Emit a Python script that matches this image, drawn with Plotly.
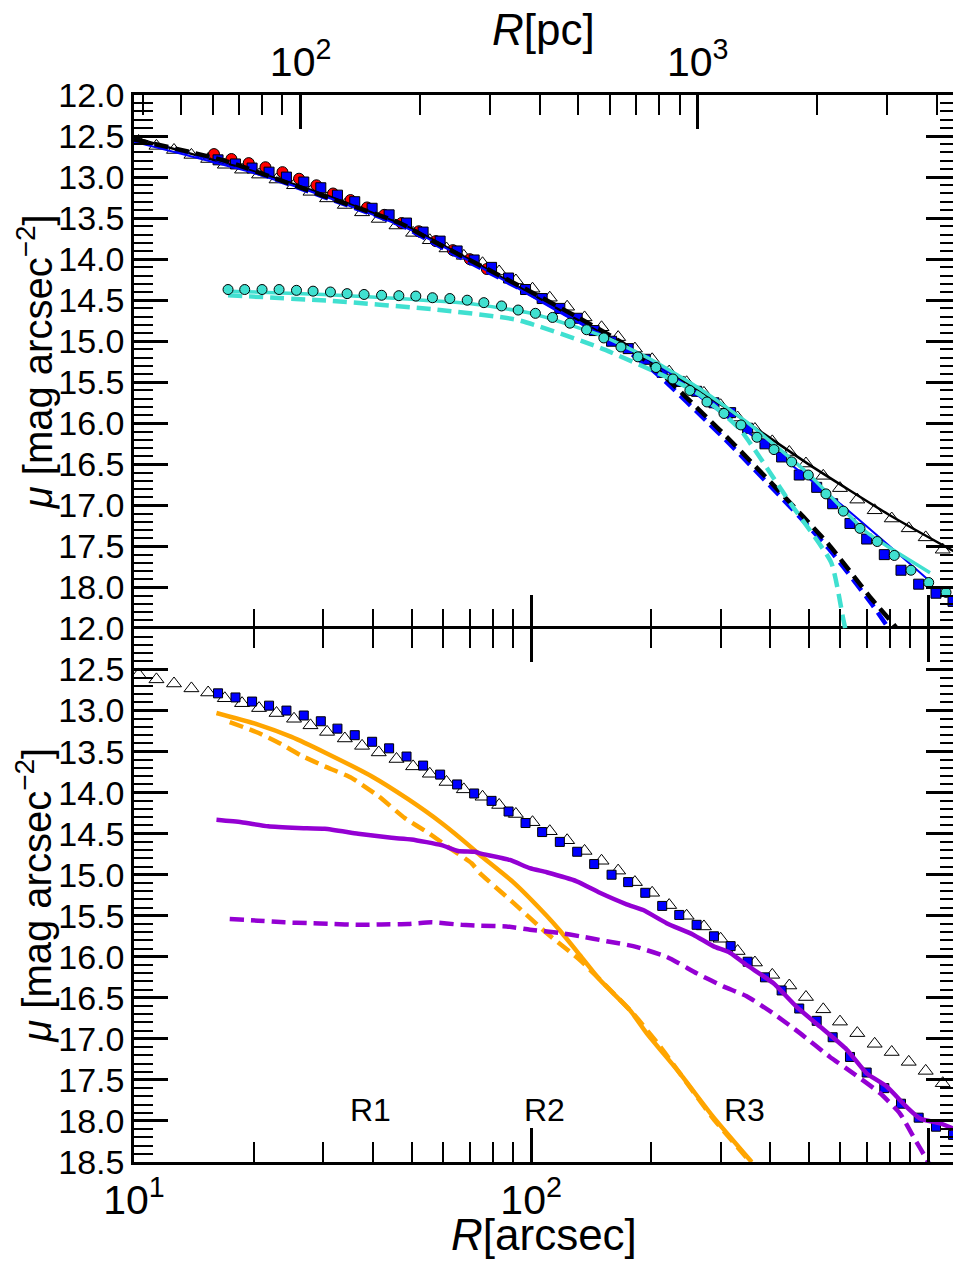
import numpy as np
import plotly.graph_objects as go

# Surface-brightness profiles; radii in arcsec, mu in mag arcsec^-2
PC_PER_ARCSEC = 3.806
R_LO, R_HI = 10.0, 1154.0

tri_r = [10.27, 11.39, 12.61, 13.95, 15.37, 16.93, 18.71, 20.65, 22.85, 25.29, 27.82, 30.63,
         33.95, 37.52, 41.33, 45.81, 50.44, 55.57, 61.22, 67.69, 75.44, 83.07, 91.53, 100.8,
         111.4, 123.2, 136.3, 150.4, 165.6, 182.5, 201.7, 222.6, 246.3, 272.3, 300.0, 331.1,
         366.0, 404.7, 446.7, 492.0, 543.9, 599.3, 662.6, 732.8, 808.9, 892.7, 985.1, 1087.2]
tri_mu = [12.56, 12.62, 12.67, 12.73, 12.78, 12.85, 12.91, 12.97, 13.03, 13.10, 13.18, 13.26,
          13.34, 13.43, 13.51, 13.59, 13.68, 13.77, 13.87, 13.96, 14.05, 14.15, 14.26, 14.36,
          14.47, 14.58, 14.71, 14.83, 14.95, 15.09, 15.22, 15.37, 15.50, 15.63, 15.78, 15.93,
          16.07, 16.22, 16.35, 16.49, 16.64, 16.79, 16.93, 17.06, 17.16, 17.28, 17.39, 17.54]

sq_r = [16.28, 18.01, 19.83, 21.88, 24.20, 26.76, 29.54, 32.53, 35.96, 39.77, 43.89, 48.55,
        53.45, 59.00, 65.11, 71.86, 79.49, 87.73, 96.80, 106.6, 118.1, 130.6, 144.1, 159.4,
        175.5, 193.8, 213.8, 236.0, 261.0, 288.6, 317.9, 350.9, 387.9, 427.3, 473.2, 523.6,
        574.4, 635.0, 699.6, 774.9, 853.6, 945.8, 1045.7, 1154.0]
sq_mu = [12.79, 12.84, 12.89, 12.94, 13.00, 13.06, 13.13, 13.22, 13.30, 13.38, 13.46, 13.56,
         13.67, 13.78, 13.90, 14.01, 14.10, 14.23, 14.37, 14.48, 14.60, 14.72, 14.87, 15.00,
         15.09, 15.22, 15.38, 15.49, 15.61, 15.75, 15.87, 16.06, 16.25, 16.41, 16.63, 16.78,
         16.98, 17.22, 17.41, 17.60, 17.79, 17.96, 18.07, 18.17]

red_r = [15.90, 17.59, 19.45, 21.43, 23.65, 26.04, 28.80, 31.71, 35.09, 38.63, 42.68, 47.16,
         52.12, 57.54, 63.51, 70.08, 77.34]
red_mu = [12.72, 12.78, 12.83, 12.88, 12.94, 13.02, 13.10, 13.20, 13.28, 13.37, 13.46, 13.56,
          13.66, 13.78, 13.89, 14.00, 14.12]

tq_r = [17.25, 19.00, 21.01, 23.19, 25.65, 28.24, 31.23, 34.40, 37.96, 42.01, 46.44, 51.24,
        56.43, 62.41, 69.02, 76.02, 84.23, 92.76, 102.5, 113.2, 125.2, 137.9, 152.4, 168.3,
        185.7, 206.2, 227.5, 251.0, 277.1, 305.8, 337.5, 370.3, 408.7, 452.8, 498.7, 552.5,
        610.9, 672.9, 743.7, 821.0, 904.4, 1002.3, 1108.2]
tq_mu = [14.37, 14.37, 14.37, 14.37, 14.38, 14.39, 14.40, 14.42, 14.43, 14.44, 14.445, 14.45,
         14.47, 14.48, 14.50, 14.53, 14.57, 14.62, 14.66, 14.71, 14.78, 14.86, 14.96, 15.07,
         15.19, 15.32, 15.46, 15.60, 15.74, 15.88, 16.02, 16.17, 16.32, 16.47, 16.63, 16.86,
         17.07, 17.28, 17.44, 17.61, 17.79, 17.94, 18.06]

# model curves, top panel
tot_r = [10, 15, 20, 30, 50, 80, 120, 200, 300, 500, 800, 1200]
tot_mu = [12.52, 12.76, 12.93, 13.21, 13.63, 14.16, 14.64, 15.24, 15.77, 16.50, 17.12, 17.60]

bfit_r = [10, 20, 30, 50, 80, 120, 211, 276, 405, 600, 991]
bfit_mu = [12.57, 12.95, 13.23, 13.65, 14.18, 14.67, 15.30, 15.74, 16.33, 16.98, 17.89]

kblg_r = [10, 16.9, 30, 46.7, 56.6, 77.5, 100, 130, 167, 202, 219, 276, 316, 420, 560, 720, 805, 860]
kblg_mu = [12.54, 12.80, 13.23, 13.56, 13.78, 14.12, 14.40, 14.70, 15.00, 15.30, 15.45, 15.92,
           16.20, 16.82, 17.47, 18.14, 18.41, 18.58]

bblg_r = [10, 16.9, 30, 46.7, 56.6, 77.5, 100, 130, 167, 202, 219, 276, 316, 420, 560, 720, 790, 840]
bblg_mu = [12.55, 12.81, 13.24, 13.58, 13.80, 14.15, 14.43, 14.74, 15.05, 15.35, 15.50, 15.97,
           16.25, 16.87, 17.52, 18.20, 18.48, 18.66]

tfit_r = [17.25, 30, 50, 70, 100, 150, 200, 270, 350, 500, 700, 1010]
tfit_mu = [14.39, 14.43, 14.49, 14.54, 14.66, 14.93, 15.22, 15.60, 15.99, 16.62, 17.33, 17.82]

tdsk_r = [17.25, 31.6, 56.6, 92.3, 149, 227, 266, 335, 449, 570, 611, 630]
tdsk_mu = [14.44, 14.51, 14.61, 14.74, 15.08, 15.47, 15.65, 16.07, 16.97, 17.70, 18.39, 18.69]

# decomposed profiles, bottom panel
org_r = [16.13, 20.53, 24.92, 30.23, 39.63, 49.00, 59.48, 70.79, 74.29, 90.10, 109.4, 118.1,
         132.7, 148.9, 177.3, 195.3, 236.9, 287.3, 359.2]
org_mu = [13.03, 13.17, 13.32, 13.51, 13.80, 14.08, 14.37, 14.67, 14.76, 15.09, 15.50, 15.68,
          15.98, 16.28, 16.65, 16.93, 17.42, 17.95, 18.50]

orgd_r = [17.42, 20.53, 23.51, 26.41, 30.23, 35.29, 41.18, 48.08, 55.03, 63.04, 70.79, 74.29,
          90.10, 109.4, 132.7, 154.9, 180.7, 211.0, 261.0, 287.3, 359.2]
orgd_mu = [13.14, 13.27, 13.41, 13.55, 13.68, 13.82, 14.04, 14.31, 14.49, 14.69, 14.86, 14.98,
           15.34, 15.71, 16.04, 16.36, 16.69, 17.09, 17.70, 17.97, 18.52]

pur_r = [16.13, 18.64, 21.76, 25.89, 30.23, 36.67, 44.51, 49.95, 59.48, 65.5, 72.13, 74.29,
         88.4, 99.25, 109.4, 130.2, 148.9, 173.9, 191.5, 219.3, 255.9, 287.3, 316.6, 348.9,
         407.0, 466.2, 533.6, 623.0, 699.6, 785.8, 882.2, 953.1, 1070.0, 1154.0]
pur_mu = [14.33, 14.36, 14.41, 14.43, 14.44, 14.50, 14.55, 14.57, 14.64, 14.71, 14.72, 14.74,
          14.82, 14.92, 14.97, 15.08, 15.22, 15.36, 15.43, 15.59, 15.73, 15.87, 15.95, 16.10,
          16.32, 16.61, 16.85, 17.13, 17.42, 17.58, 17.83, 17.97, 18.03, 18.09]

purd_r = [17.42, 20.53, 23.96, 27.44, 31.43, 36.67, 42.01, 49.0, 56.12, 66.79, 74.29, 86.7,
          99.25, 118.1, 132.7, 154.9, 180.7, 219.3, 261.0, 304.5, 348.9, 407.0, 475.2, 565.5,
          647.4, 755.4, 848.6, 916.9, 990.9, 1030.0]
purd_mu = [15.54, 15.56, 15.58, 15.59, 15.60, 15.61, 15.605, 15.60, 15.58, 15.61, 15.62, 15.63,
           15.67, 15.71, 15.75, 15.81, 15.87, 16.00, 16.20, 16.36, 16.48, 16.69, 16.93, 17.22,
           17.42, 17.66, 17.91, 18.19, 18.47, 18.62]

region_r = [70, 150, 877]
region_names = ["R1", "R2", "R3"]
region_label_r = [39.3, 108.3, 345.4]
region_label_mu = 17.87

mu_ticks_top = [12.0 + 0.5 * i for i in range(13)]
mu_ticks_bot = [12.0 + 0.5 * i for i in range(14)]
mu_minor = [round(12.0 + 0.1 * i, 1) for i in range(66)]
arc_minor = [20, 30, 40, 50, 60, 70, 80, 90, 200, 300, 400, 500, 600, 700, 800, 900]
pc_minor = [40, 50, 60, 70, 80, 90, 200, 300, 400, 500, 600, 700, 800, 900, 2000, 3000, 4000]

BLUE = "#0000ff"
RED = "#ff0000"
TURQ = "#40e0d0"
ORANGE = "#ffa500"
PURPLE = "#9400d3"
GREY = "#c0c0c0"
SANS = "Liberation Sans, Arial, sans-serif"

fig = go.Figure()


def line(x, y, color, width, dash, xa, ya):
    fig.add_trace(go.Scatter(x=x, y=y, mode="lines", xaxis=xa, yaxis=ya,
                             line=dict(color=color, width=width, dash=dash, shape="spline",
                                       smoothing=0.5),
                             showlegend=False, hoverinfo="skip"))


def pts(x, y, symbol, fill, size, xa, ya, lw=1):
    fig.add_trace(go.Scatter(x=x, y=y, mode="markers", xaxis=xa, yaxis=ya,
                             marker=dict(symbol=symbol, color=fill, size=size,
                                         line=dict(color="black", width=lw)),
                             showlegend=False, hoverinfo="skip"))


DASH = "14px,7px"

# ---- top panel ----
pts(tri_r, tri_mu, "triangle-up", "white", 13, "x2", "y2")
pts(red_r, red_mu, "circle", RED, 11, "x2", "y2")
pts(sq_r, sq_mu, "square", BLUE, 10, "x2", "y2")
line(tot_r, tot_mu, "black", 2.5, "solid", "x2", "y2")
line(bfit_r, bfit_mu, BLUE, 2, "solid", "x2", "y2")
line(bblg_r, bblg_mu, BLUE, 4.5, DASH, "x2", "y2")
line(kblg_r, kblg_mu, "black", 4.5, DASH, "x2", "y2")
line(tfit_r, tfit_mu, TURQ, 3.5, "solid", "x2", "y2")
line(tdsk_r, tdsk_mu, TURQ, 4.5, DASH, "x2", "y2")
pts(tq_r, tq_mu, "circle", TURQ, 10, "x2", "y2")

# ---- bottom panel ----
pts(tri_r, tri_mu, "triangle-up", "white", 13, "x", "y")
pts(sq_r, sq_mu, "square", BLUE, 9, "x", "y")
line(org_r, org_mu, ORANGE, 4.5, "solid", "x", "y")
line(orgd_r, orgd_mu, ORANGE, 4.5, DASH, "x", "y")
line(pur_r, pur_mu, PURPLE, 4.5, "solid", "x", "y")
line(purd_r, purd_mu, PURPLE, 4.5, DASH, "x", "y")

# placeholders so the overlay axes are drawn
for xa, ya in (("x2", "y3"), ("x", "y4"), ("x3", "y2")):
    fig.add_trace(go.Scatter(x=[], y=[], xaxis=xa, yaxis=ya, showlegend=False))

lr = [np.log10(R_LO), np.log10(R_HI)]
lr_pc = [np.log10(R_LO * PC_PER_ARCSEC), np.log10(R_HI * PC_PER_ARCSEC)]

tickfont = dict(family=SANS, size=34, color="black")
xtickfont = dict(family=SANS, size=41, color="black")
common_y = dict(range=[18.5, 12.0], ticks="inside", ticklen=34, tickwidth=3, tickcolor="black",
                showline=True, linecolor="black", linewidth=2.5, showgrid=False, zeroline=False,
                tickfont=tickfont,
                minor=dict(tickmode="array", tickvals=mu_minor, ticks="inside", ticklen=19,
                           tickwidth=2, tickcolor="black", showgrid=False))
right_y = dict(range=[18.5, 12.0], side="right", ticks="inside", ticklen=27, tickwidth=3,
               tickcolor="black", showline=False, showgrid=False, zeroline=False,
               showticklabels=False, tickmode="array", tickvals=mu_ticks_bot,
               minor=dict(tickmode="array", tickvals=mu_minor, ticks="inside", ticklen=13,
                          tickwidth=2, tickcolor="black", showgrid=False))
common_x = dict(type="log", range=lr, ticks="inside", ticklen=34, tickwidth=3, tickcolor="black",
                linecolor="black", linewidth=2.5, showgrid=False, zeroline=False,
                tickmode="array", tickvals=[10, 100, 1000],
                minor=dict(tickmode="array", tickvals=arc_minor, ticks="inside", ticklen=20,
                           tickwidth=2, tickcolor="black", showgrid=False))

fig.update_layout(
    width=953, height=1262,
    margin=dict(l=134, r=0, t=95, b=100),
    paper_bgcolor="white", plot_bgcolor="white",
    xaxis=dict(common_x, anchor="y", domain=[0, 1], mirror="ticks", showline=True,
               ticktext=["10<sup>1</sup>", "10<sup>2</sup>", "10<sup>3</sup>"], tickfont=xtickfont),
    xaxis2=dict(common_x, anchor="y2", domain=[0, 1], matches="x", showline=False,
                showticklabels=False),
    xaxis3=dict(type="log", range=lr_pc, overlaying="x2", side="top", anchor="y2",
                ticks="inside", ticklen=34, tickwidth=3, tickcolor="black",
                showline=True, linecolor="black", linewidth=2.5, showgrid=False, zeroline=False,
                tickmode="array", tickvals=[100, 1000],
                ticktext=["10<sup>2</sup>", "10<sup>3</sup>"], tickfont=xtickfont,
                minor=dict(tickmode="array", tickvals=pc_minor, ticks="inside", ticklen=20,
                           tickwidth=2, tickcolor="black", showgrid=False)),
    yaxis=dict(common_y, domain=[0, 0.5], anchor="x", tickmode="array", tickvals=mu_ticks_bot,
               ticktext=[f"{v:.1f}" for v in mu_ticks_bot]),
    yaxis2=dict(common_y, domain=[0.5, 1], anchor="x2", tickmode="array", tickvals=mu_ticks_top,
                ticktext=[f"{v:.1f}" for v in mu_ticks_top]),
    yaxis3=dict(right_y, overlaying="y2", anchor="x2"),
    yaxis4=dict(right_y, overlaying="y", anchor="x"),
)

# region boundaries through both panels
for r in region_r:
    fig.add_shape(type="line", xref="x", yref="paper", x0=np.log10(r), x1=np.log10(r),
                  y0=0, y1=1, line=dict(color=GREY, width=2.5), layer="below")

for name, r in zip(region_names, region_label_r):
    fig.add_annotation(x=np.log10(r), y=region_label_mu, xref="x", yref="y", text=name,
                       showarrow=False, font=dict(family=SANS, size=32, color="black"))

ytitle = "<i>μ</i> [mag arcsec<sup>−2</sup>]"
for yc in (0.25, 0.75):
    fig.add_annotation(x=-0.1215, y=yc, xref="paper", yref="paper", text=ytitle, textangle=-90,
                       showarrow=False, xanchor="center", yanchor="middle",
                       font=dict(family=SANS, size=40, color="black"))

fig.add_annotation(x=0.5, y=-0.0675, xref="paper", yref="paper", yanchor="middle",
                   text="<i>R</i>[arcsec]", showarrow=False,
                   font=dict(family=SANS, size=44, color="black"))
fig.add_annotation(x=0.5, y=1.061, xref="paper", yref="paper", yanchor="middle",
                   text="<i>R</i>[pc]", showarrow=False,
                   font=dict(family=SANS, size=44, color="black"))

fig.write_html("out.html")
